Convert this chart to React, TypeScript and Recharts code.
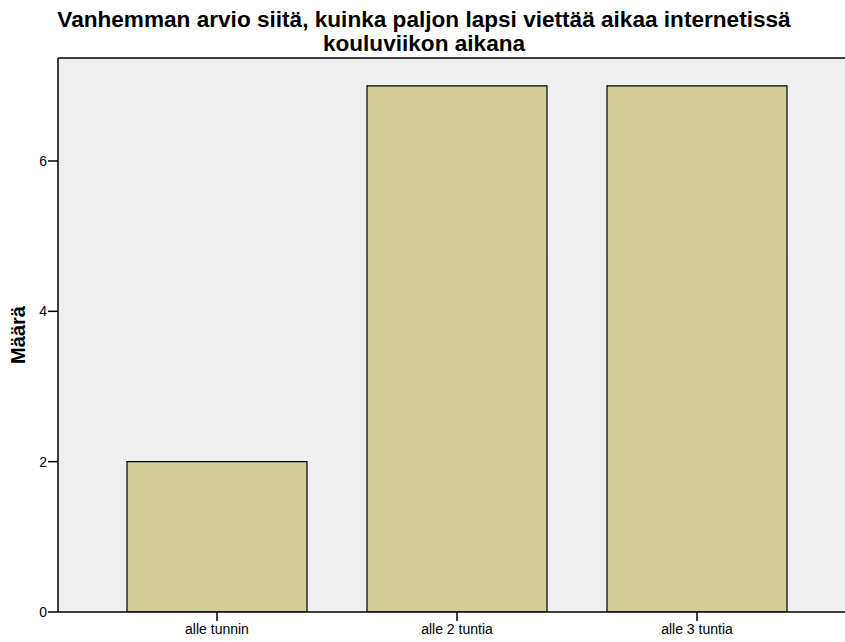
import React from "react";
import { BarChart, Bar, XAxis, YAxis, CartesianGrid, ReferenceLine } from "recharts";

const categories = ["alle tunnin", "alle 2 tuntia", "alle 3 tuntia"];
const counts = [2, 7, 7];
const yTicks = [0, 2, 4, 6];
const yMax = 7.37;
const titleLines = [
  "Vanhemman arvio siitä, kuinka paljon lapsi viettää aikaa internetissä",
  "kouluviikon aikana",
];
const yLabel = "Määrä";

const data = categories.map((c, i) => ({ name: c, value: counts[i] }));

export default function App() {
  return (
    <div style={{ position: "absolute", left: 0, top: 0, width: 845, height: 642, background: "#fff", fontFamily: "'Liberation Sans', Arial, sans-serif" }}>
      <div style={{ position: "absolute", left: 0, top: 8, width: 848, textAlign: "center", fontWeight: "bold", fontSize: 22.6, lineHeight: "24px", color: "#000" }}>
        {titleLines.map((t) => (
          <div key={t}>{t}</div>
        ))}
      </div>
      <BarChart
        width={845}
        height={642}
        data={data}
        margin={{ top: 58, right: 0, bottom: 0, left: 0 }}
        barCategoryGap={30}
      >
        <CartesianGrid horizontal={false} vertical={false} fill="#efefef" />
        <XAxis
          dataKey="name"
          height={30}
          padding={{ left: 39, right: 28 }}
          tickSize={9}
          tickMargin={3}
          stroke="#000"
          tick={{ fill: "#000", fontSize: 14, fontFamily: "'Liberation Sans', Arial, sans-serif" }}
          tickLine={{ stroke: "#000", strokeWidth: 1.5 }}
          axisLine={{ stroke: "#000", strokeWidth: 1.5 }}
        />
        <YAxis
          width={58}
          domain={[0, yMax]}
          ticks={yTicks}
          allowDataOverflow
          tickSize={10}
          tickMargin={1}
          tick={{ fill: "#000", fontSize: 14, fontFamily: "'Liberation Sans', Arial, sans-serif" }}
          tickLine={{ stroke: "#000", strokeWidth: 1.5 }}
          axisLine={{ stroke: "#000", strokeWidth: 1.5 }}
          label={{ value: yLabel, angle: -90, position: "insideLeft", offset: 18, style: { fontWeight: "bold", fontSize: 20, fill: "#000", textAnchor: "middle" } }}
        />
        <ReferenceLine y={yMax} stroke="#000" strokeWidth={1.5} ifOverflow="extendDomain" />
        <Bar dataKey="value" fill="#d3ce97" stroke="#000" strokeWidth={1.2} isAnimationActive={false} />
      </BarChart>
    </div>
  );
}
